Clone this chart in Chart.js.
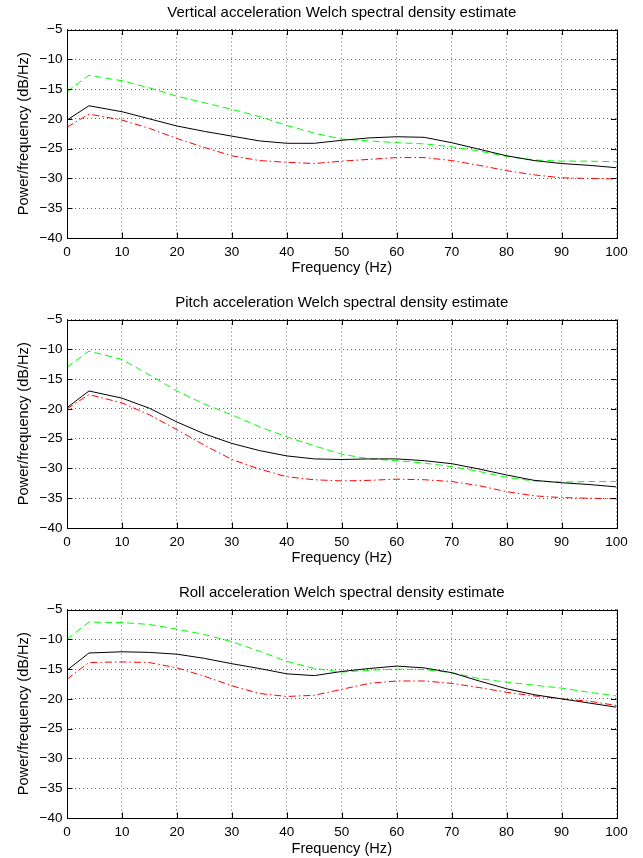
<!DOCTYPE html>
<html><head><meta charset="utf-8">
<script src="https://cdn.jsdelivr.net/npm/chart.js@4.4.1/dist/chart.umd.min.js"></script>
<style>
html,body{margin:0;padding:0;background:#fff;width:643px;height:858px;overflow:hidden}
.wrap{position:absolute;left:0;width:643px}
canvas{display:block}
</style></head><body>
<div class="wrap" style="top:0px"><canvas id="c1" width="643" height="280"></canvas></div>
<div class="wrap" style="top:290px"><canvas id="c2" width="643" height="280"></canvas></div>
<div class="wrap" style="top:580px"><canvas id="c3" width="643" height="278"></canvas></div>
<script>
// ---- data ----
const freq = [0,4,10,15,20,25,30,35,40,45,50,55,60,65,70,75,80,85,90,95,100];

const titles = [
  'Vertical acceleration Welch spectral density estimate',
  'Pitch acceleration Welch spectral density estimate',
  'Roll acceleration Welch spectral density estimate'
];
const xLabel = 'Frequency (Hz)';
const yLabel = 'Power/frequency (dB/Hz)';

const xTicks = [0,10,20,30,40,50,60,70,80,90,100];
const yTicks = [-40,-35,-30,-25,-20,-15,-10,-5];

const vertBlack = [-20.2,-17.8,-18.8,-20.0,-21.2,-22.1,-22.9,-23.7,-24.1,-24.1,-23.6,-23.2,-23.0,-23.1,-24.0,-25.1,-26.2,-27.0,-27.5,-27.8,-28.2];
const vertGreen = [-15.4,-12.7,-13.6,-14.8,-16.2,-17.3,-18.4,-19.6,-21.1,-22.4,-23.4,-23.7,-24.0,-24.2,-24.7,-25.4,-26.3,-26.9,-27.1,-27.1,-27.2];
const vertRed   = [-21.4,-19.2,-20.2,-21.6,-23.3,-24.8,-26.2,-27.0,-27.3,-27.5,-27.1,-26.8,-26.5,-26.5,-27.0,-27.8,-28.7,-29.4,-29.9,-30.0,-30.1];

const pitchBlack = [-19.8,-17.0,-18.2,-19.9,-22.2,-24.2,-25.8,-27.0,-27.9,-28.4,-28.5,-28.4,-28.4,-28.7,-29.2,-30.1,-31.1,-32.0,-32.4,-32.7,-33.1];
const pitchGreen = [-13.0,-10.3,-11.7,-14.3,-17.0,-19.2,-21.0,-23.0,-24.7,-26.2,-27.6,-28.4,-28.7,-29.1,-29.7,-30.5,-31.5,-32.1,-32.3,-32.2,-32.2];
const pitchRed   = [-20.0,-17.6,-19.0,-21.0,-23.5,-26.1,-28.5,-30.1,-31.4,-31.9,-32.1,-32.0,-31.8,-31.9,-32.2,-32.9,-33.9,-34.6,-34.9,-35.0,-35.1];

const rollBlack = [-15.2,-12.3,-12.1,-12.2,-12.5,-13.2,-14.1,-14.9,-15.8,-16.1,-15.4,-14.9,-14.5,-14.8,-15.6,-17.0,-18.3,-19.3,-20.0,-20.7,-21.4];
const rollGreen = [-10.0,-7.1,-7.2,-7.5,-8.3,-9.2,-10.4,-12.0,-13.7,-14.9,-15.5,-15.2,-15.0,-15.1,-15.6,-16.6,-17.2,-17.7,-18.2,-18.9,-19.5];
const rollRed   = [-16.7,-13.9,-13.8,-13.9,-14.8,-16.2,-17.8,-19.1,-19.6,-19.4,-18.4,-17.4,-17.0,-17.0,-17.4,-18.1,-18.9,-19.5,-20.0,-20.4,-21.1];

// ---- drawing ----
const FONT = 'Liberation Sans, Arial, Helvetica, sans-serif';
const TICK_FS = 13.5, LABEL_FS = 14.6, TITLE_FS = 15;

const boxTicks = {
  id: 'boxTicks',
  afterDraw(chart) {
    const {ctx, chartArea: a, scales: {x, y}} = chart;
    const L = 5.5;
    ctx.save();
    ctx.strokeStyle = '#000';
    ctx.lineWidth = 1;
    ctx.setLineDash([]);
    ctx.beginPath();
    x.ticks.forEach(t => {
      const px = Math.round(x.getPixelForValue(t.value)) + 0.5;
      ctx.moveTo(px, a.bottom); ctx.lineTo(px, a.bottom - L);
      ctx.moveTo(px, a.top); ctx.lineTo(px, a.top + L);
    });
    y.ticks.forEach(t => {
      const py = Math.round(y.getPixelForValue(t.value)) + 0.5;
      ctx.moveTo(a.left, py); ctx.lineTo(a.left + L, py);
      ctx.moveTo(a.right, py); ctx.lineTo(a.right - L, py);
    });
    ctx.stroke();
    const l = Math.round(a.left) + 0.5, tp = Math.round(a.top) + 0.5;
    ctx.strokeRect(l, tp, Math.round(a.right) - Math.round(a.left), Math.round(a.bottom) - Math.round(a.top));
    // subplot title, centred over the axes box
    const txt = chart.options.plugins.boxTicks.title;
    ctx.fillStyle = '#000';
    ctx.font = 'normal ' + TITLE_FS + 'px ' + FONT;
    ctx.textAlign = 'center';
    ctx.textBaseline = 'middle';
    ctx.fillText(txt, (a.left + a.right) / 2, chart.options.plugins.boxTicks.titleY);
    ctx.restore();
  }
};

function makeChart(id, title, black, green, red, H, titleY, xTitleCenter) {
  const areaTop = 29.5, areaBottom = 238;
  const lh = LABEL_FS * 1.2;
  new Chart(document.getElementById(id), {
    type: 'line',
    data: {
      datasets: [
        {label: 'black', data: freq.map((f, i) => ({x: f, y: black[i]})), borderColor: '#000000', borderWidth: 1, pointRadius: 0, tension: 0},
        {label: 'green', data: freq.map((f, i) => ({x: f, y: green[i]})), borderColor: '#00ff00', borderWidth: 1, borderDash: [7, 4], pointRadius: 0, tension: 0},
        {label: 'red', data: freq.map((f, i) => ({x: f, y: red[i]})), borderColor: '#ff0000', borderWidth: 1, borderDash: [7, 3, 1.5, 3], pointRadius: 0, tension: 0}
      ]
    },
    options: {
      responsive: false,
      animation: false,
      devicePixelRatio: 1,
      layout: {padding: {left: 0, right: 26.5, top: areaTop, bottom: 0}},
      plugins: {
        legend: {display: false},
        tooltip: {enabled: false},
        title: {display: false},
        boxTicks: {title: title, titleY: titleY}
      },
      scales: {
        x: {
          type: 'linear', min: 0, max: 100,
          afterBuildTicks: s => { s.ticks = xTicks.map(v => ({value: v})); },
          afterFit: s => { s.height = H - areaBottom; },
          ticks: {color: '#000', font: {family: FONT, size: TICK_FS}, padding: 6, maxRotation: 0, autoSkip: false},
          grid: {color: 'rgba(0,0,0,0.6)', lineWidth: 1, drawTicks: false},
          border: {display: false, dash: [1, 3]},
          title: {display: true, text: xLabel, color: '#000', font: {family: FONT, size: LABEL_FS, lineHeight: 1.2}, padding: {top: 0, bottom: H - xTitleCenter - lh / 2}}
        },
        y: {
          type: 'linear', min: -40, max: -5,
          afterBuildTicks: s => { s.ticks = yTicks.map(v => ({value: v})); },
          afterFit: s => { s.width = 67; },
          ticks: {color: '#000', font: {family: FONT, size: TICK_FS}, padding: 4.5, autoSkip: false,
            callback: v => (v < 0 ? '\u2212' : '') + Math.abs(v)},
          grid: {color: 'rgba(0,0,0,0.6)', lineWidth: 1, drawTicks: false},
          border: {display: false, dash: [1, 3]},
          title: {display: true, text: yLabel, color: '#000', font: {family: FONT, size: LABEL_FS, lineHeight: 1.2}, padding: {top: 23.5 - lh / 2, bottom: 0}}
        }
      }
    },
    plugins: [boxTicks]
  });
}

makeChart('c1', titles[0], vertBlack, vertGreen, vertRed, 280, 12.8, 268.3);
makeChart('c2', titles[1], pitchBlack, pitchGreen, pitchRed, 280, 12.7, 268);
makeChart('c3', titles[2], rollBlack, rollGreen, rollRed, 278, 13, 268.7);
</script>
</body></html>
